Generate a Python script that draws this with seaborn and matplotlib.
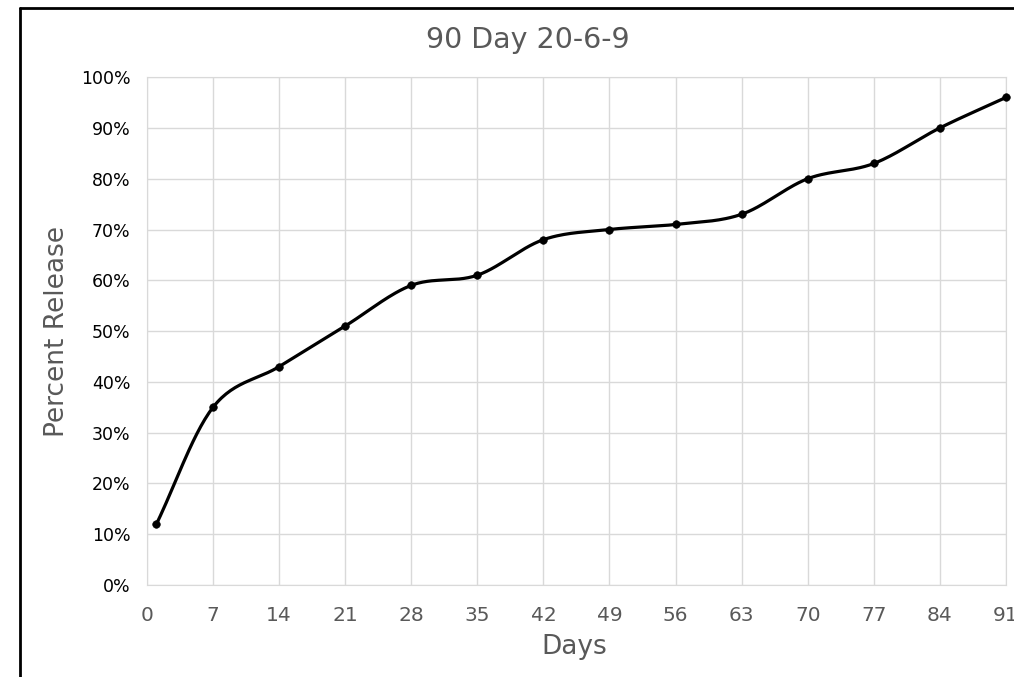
import numpy as np
import pandas as pd
import matplotlib
matplotlib.use('Agg')
import matplotlib.pyplot as plt
import seaborn as sns
from matplotlib.lines import Line2D
from matplotlib.ticker import PercentFormatter

days = [1, 7, 14, 21, 28, 35, 42, 49, 56, 63, 70, 77, 84, 91]
release = [12, 35, 43, 51, 59, 61, 68, 70, 71, 73, 80, 83, 90, 96]
x_ticks = [0, 7, 14, 21, 28, 35, 42, 49, 56, 63, 70, 77, 84, 91]

df = pd.DataFrame({'Days': days, 'Release': release})


def smooth(x, y, n=30):
    # catmull-rom style curve, like excel's smoothed line
    x = np.asarray(x, float)
    y = np.asarray(y, float)
    px = np.concatenate([[2 * x[0] - x[1]], x, [2 * x[-1] - x[-2]]])
    py = np.concatenate([[2 * y[0] - y[1]], y, [2 * y[-1] - y[-2]]])
    xs, ys = [], []
    t = np.linspace(0, 1, n)
    for i in range(1, len(px) - 2):
        for p, out in ((px, xs), (py, ys)):
            p0, p1, p2, p3 = p[i - 1], p[i], p[i + 1], p[i + 2]
            out.extend(0.5 * ((2 * p1) + (-p0 + p2) * t
                              + (2 * p0 - 5 * p1 + 4 * p2 - p3) * t ** 2
                              + (-p0 + 3 * p1 - 3 * p2 + p3) * t ** 3))
    return np.array(xs), np.array(ys)


sns.set_style('white')
plt.rcParams['font.family'] = ['DejaVu Sans']

fig = plt.figure(figsize=(10.14, 6.77), dpi=100)
ax = fig.add_axes([0.145, 0.136, 0.847, 0.750])

sx, sy = smooth(df['Days'], df['Release'])
ax.plot(sx, sy, color='black', lw=2.3, zorder=3)
sns.scatterplot(data=df, x='Days', y='Release', color='black', s=30,
                edgecolor='black', zorder=4, ax=ax, clip_on=False)

ax.set_xlim(0, 91)
ax.set_ylim(0, 100)
ax.set_xticks(x_ticks)
ax.set_yticks(range(0, 101, 10))
ax.yaxis.set_major_formatter(PercentFormatter(decimals=0))
ax.grid(True, color='#d9d9d9', lw=1)
for s in ax.spines.values():
    s.set_color('#d9d9d9')
ax.tick_params(axis='y', labelsize=12.5, labelcolor='black', length=0, pad=12)
ax.tick_params(axis='x', labelsize=14.5, labelcolor='#595959', length=0, pad=15)

ax.set_xlabel('Days', fontsize=19, color='#595959', va='center')
ax.xaxis.set_label_coords(0.498, -0.122)
ax.set_ylabel('Percent Release', fontsize=19, color='#595959', va='center')
ax.yaxis.set_label_coords(-0.105, 0.5)

fig.text(0.521, 0.941, '90 Day 20-6-9', ha='center', va='center',
         fontsize=20.5, color='#595959')

# outer frame (left and top only visible)
fig.add_artist(Line2D([0.02, 0.02], [0, 0.988], color='black', lw=2,
                      transform=fig.transFigure))
fig.add_artist(Line2D([0.02, 1.0], [0.988, 0.988], color='black', lw=2,
                      transform=fig.transFigure))

fig.savefig('out.png', dpi=100)
